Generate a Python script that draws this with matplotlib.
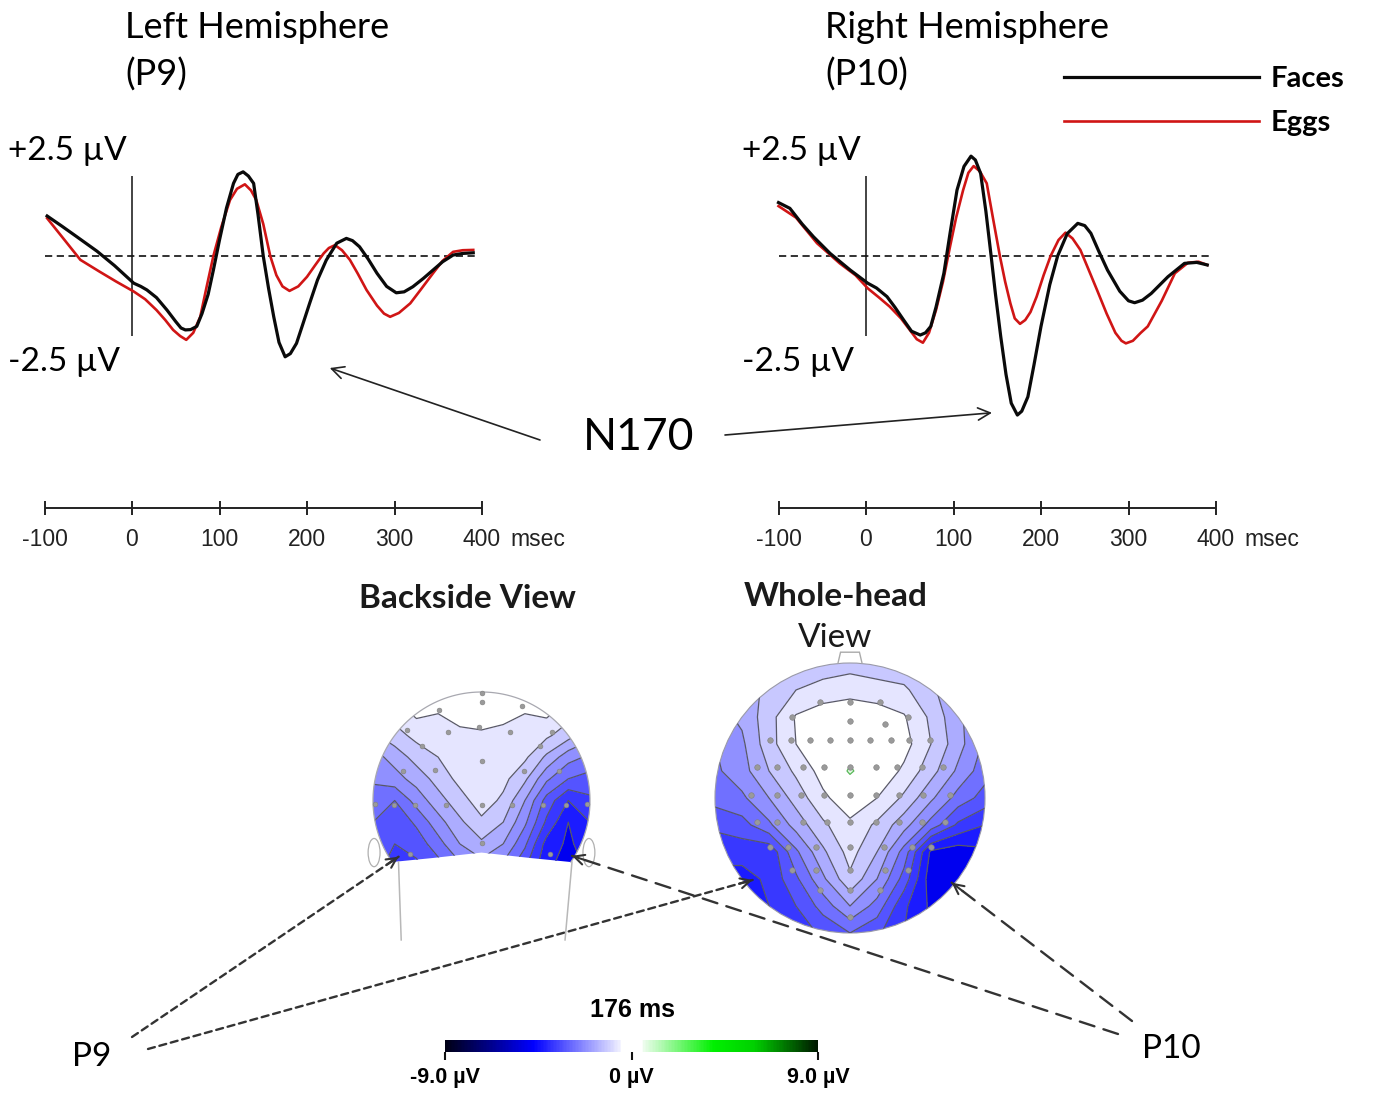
import matplotlib
matplotlib.use("Agg")
import matplotlib.pyplot as plt
import numpy as np
from matplotlib import font_manager
from matplotlib.colors import LinearSegmentedColormap, Normalize
from matplotlib.patches import Circle, Ellipse, Polygon

W, H = 1373, 1100

# ---- ERP waveforms (msec, µV) ------------------------------------------- #
left_faces_t = [-97, -80, -63, -40, -20, 2, 10, 17, 28, 40, 50, 56, 61, 67, 74, 80, 87, 93, 100,
                108, 116, 121, 127, 133, 139, 144, 150, 156, 162, 168, 175, 181, 188, 195, 203,
                212, 222, 234, 245, 252, 260, 270, 280, 291, 302, 311, 321, 333, 344, 355, 367,
                378, 390]
left_faces_v = [1.25, 0.93, 0.6, 0.15, -0.3, -0.85, -0.95, -1.06, -1.3, -1.69, -2.05, -2.25, -2.31,
                -2.3, -2.2, -1.8, -1.2, -0.44, 0.5, 1.5, 2.27, 2.55, 2.63, 2.5, 2.27, 1.3, 0.0,
                -1.0, -1.9, -2.7, -3.15, -3.05, -2.73, -2.15, -1.48, -0.75, -0.13, 0.4, 0.55,
                0.48, 0.29, -0.1, -0.54, -0.95, -1.15, -1.12, -0.96, -0.7, -0.44, -0.18, 0.03,
                0.08, 0.1]
left_eggs_t = [-97, -80, -59, -37, -18, 2, 15, 28, 38, 47, 55, 62, 70, 78, 85, 93, 102, 112, 120,
               129, 136, 142, 150, 158, 165, 172, 180, 190, 200, 209, 219, 225, 232, 240, 249,
               258, 268, 280, 288, 295, 305, 318, 330, 344, 355, 367, 378, 390]
left_eggs_v = [1.18, 0.6, -0.12, -0.49, -0.8, -1.11, -1.35, -1.69, -2.0, -2.31, -2.5, -2.62, -2.4,
               -1.9, -1.0, 0.0, 0.9, 1.75, 2.1, 2.24, 2.05, 1.75, 1.0, 0.0, -0.6, -0.95, -1.09,
               -0.95, -0.65, -0.3, 0.08, 0.25, 0.34, 0.18, -0.12, -0.55, -1.06, -1.55, -1.8,
               -1.9, -1.78, -1.48, -1.05, -0.54, -0.15, 0.13, 0.18, 0.19]
right_faces_t = [-100, -87, -73, -60, -41, -18, 2, 12, 24, 33, 43, 52, 62, 68, 74, 80, 89, 96, 104,
                 112, 120, 125, 131, 137, 143, 148, 154, 160, 166, 173, 178, 185, 192, 200, 210,
                 219, 230, 242, 250, 257, 266, 276, 290, 300, 307, 316, 326, 345, 364, 378, 390]
right_faces_v = [1.67, 1.49, 1.0, 0.6, 0.08, -0.44, -0.85, -1.0, -1.27, -1.6, -2.0, -2.35, -2.47,
                 -2.4, -2.2, -1.6, -0.54, 0.7, 2.06, 2.8, 3.12, 3.0, 2.58, 1.4, 0.0, -1.2, -2.52,
                 -3.7, -4.6, -4.97, -4.85, -4.4, -3.4, -2.2, -0.9, 0.0, 0.7, 1.02, 0.95, 0.71,
                 0.15, -0.44, -1.1, -1.4, -1.46, -1.38, -1.17, -0.65, -0.23, -0.2, -0.28]
right_eggs_t = [-100, -80, -56, -30, -12, 2, 15, 27, 40, 50, 58, 65, 72, 80, 88, 96, 103, 111, 117,
                123, 130, 138, 145, 153, 159, 165, 170, 176, 182, 188, 195, 203, 211, 220, 228,
                236, 245, 254, 264, 275, 285, 292, 297, 305, 314, 322, 338, 353, 368, 380, 390]
right_eggs_v = [1.56, 1.2, 0.4, -0.23, -0.6, -1.01, -1.3, -1.58, -1.95, -2.31, -2.6, -2.71, -2.4,
                -1.69, -0.8, 0.29, 1.2, 2.06, 2.6, 2.81, 2.65, 2.27, 1.2, 0.0, -0.8, -1.48, -1.95,
                -2.12, -2.0, -1.75, -1.27, -0.6, 0.0, 0.5, 0.73, 0.55, 0.19, -0.4, -1.06, -1.8,
                -2.4, -2.65, -2.73, -2.65, -2.4, -2.2, -1.4, -0.54, -0.21, -0.18, -0.28]

time_ticks = [-100, 0, 100, 200, 300, 400]
baseline_span = (-100, 392)
n170_tip_left = (226, -3.5)
n170_tip_right = (144, -4.9)

# ---- topographic maps (µV at grid nodes, unit-circle coords) ------------- #
wh_u = [-1.0, -0.8, -0.6, -0.4, -0.2, 0.0, 0.2, 0.4, 0.6, 0.8, 1.0]
wh_w = [1.0, 0.8, 0.6, 0.4, 0.2, 0.0, -0.2, -0.4, -0.6, -0.8, -1.0]
wh_z = [
    [-1.6, -1.6, -1.5, -1.4, -1.3, -1.2, -1.3, -1.4, -1.6, -1.8, -2.0],
    [-1.8, -1.7, -1.4, -1.0, -0.8, -0.7, -0.8, -0.9, -1.4, -1.9, -2.2],
    [-2.2, -1.9, -1.2, -0.45, -0.2, -0.1, -0.2, -0.45, -1.1, -1.9, -2.4],
    [-2.5, -2.1, -1.2, -0.5, -0.1, 0.1, 0.0, -0.3, -1.0, -1.8, -2.6],
    [-2.6, -2.2, -1.5, -0.9, -0.3, 0.6, -0.1, -0.6, -1.3, -2.1, -2.8],
    [-2.8, -2.6, -2.0, -1.3, -0.6, -0.2, -0.5, -1.1, -1.9, -2.7, -3.2],
    [-3.4, -3.2, -2.6, -1.8, -1.1, -0.6, -1.1, -1.8, -2.7, -3.6, -4.0],
    [-3.8, -3.8, -3.9, -2.6, -1.6, -0.8, -1.5, -2.7, -4.6, -4.8, -4.6],
    [-4.2, -4.2, -3.9, -3.1, -2.1, -1.1, -2.0, -3.2, -4.8, -5.0, -4.8],
    [-4.2, -4.2, -4.0, -3.5, -2.8, -2.0, -2.7, -3.9, -4.6, -4.8, -4.8],
    [-4.2, -4.2, -4.0, -3.8, -3.4, -3.0, -3.4, -4.0, -4.6, -4.8, -4.8],
]
wh_elec_u = [-0.22, 0, 0.22,
             -0.43, 0, 0.26, 0.43,
             -0.59, -0.44, -0.30, -0.15, 0, 0.15, 0.30, 0.44, 0.59,
             -0.69, -0.54, -0.35, -0.19, 0, 0.19, 0.35, 0.53, 0.69,
             -0.73, -0.54, -0.36, -0.19, 0, 0.19, 0.36, 0.54, 0.74,
             -0.69, -0.54, -0.35, -0.17, 0, 0.19, 0.36, 0.53, 0.70,
             -0.59, -0.46, -0.25, 0, 0.25, 0.46, 0.60,
             -0.43, -0.25, 0, 0.26, 0.43,
             -0.22, 0, 0.22,
             0]
wh_elec_w = [0.71, 0.71, 0.71,
             0.60, 0.57, 0.55, 0.60,
             0.43, 0.43, 0.43, 0.43, 0.43, 0.43, 0.43, 0.43, 0.43,
             0.23, 0.23, 0.23, 0.23, 0.23, 0.23, 0.23, 0.23, 0.23,
             0.02, 0.02, 0.02, 0.02, 0.02, 0.02, 0.02, 0.02, 0.02,
             -0.18, -0.18, -0.18, -0.18, -0.18, -0.18, -0.18, -0.18, -0.18,
             -0.36, -0.36, -0.36, -0.36, -0.36, -0.36, -0.36,
             -0.53, -0.53, -0.53, -0.53, -0.53,
             -0.68, -0.68, -0.68,
             -0.88]

bk_u = [-1.0, -0.8, -0.6, -0.4, -0.2, 0.0, 0.2, 0.4, 0.6, 0.8, 1.0]
bk_w = [1.0, 0.8, 0.6, 0.4, 0.2, 0.0, -0.2, -0.4, -0.6]
bk_z = [
    [-0.8, -0.6, -0.4, -0.3, -0.2, -0.2, -0.2, -0.3, -0.4, -0.6, -0.8],
    [-1.0, -0.8, -0.4, -0.5, -0.35, -0.2, -0.4, -0.5, -0.4, -0.8, -1.0],
    [-1.6, -1.2, -0.85, -0.7, -0.6, -0.6, -0.6, -0.7, -0.9, -1.3, -1.8],
    [-2.2, -1.8, -1.3, -1.0, -0.7, -0.6, -0.7, -0.9, -1.6, -2.3, -2.6],
    [-2.4, -2.2, -1.8, -1.3, -0.85, -0.6, -0.85, -1.4, -2.4, -3.0, -3.2],
    [-2.8, -3.0, -2.3, -1.7, -1.2, -0.75, -1.1, -2.0, -3.2, -4.0, -3.6],
    [-3.0, -3.4, -2.9, -2.2, -1.6, -1.1, -1.5, -2.4, -3.6, -4.5, -4.0],
    [-3.2, -3.5, -3.3, -2.7, -2.0, -1.6, -2.0, -2.9, -4.2, -4.6, -4.2],
    [-3.4, -3.6, -3.6, -3.2, -2.6, -2.2, -2.6, -3.4, -4.4, -4.7, -4.4],
]
bk_elec_u = [0, 0, -0.39, 0.37, -0.69, -0.31, -0.02, 0.26, 0.65, -0.55, 0.54, 0, -0.43, -0.72,
             0.39, 0.71, -0.98, -0.81, -0.61, -0.33, 0, 0.28, 0.57, 0.78, 0.97, -0.66, 0, 0.63]
bk_elec_w = [0.99, 0.91, 0.83, 0.87, 0.65, 0.63, 0.68, 0.63, 0.63, 0.50, 0.50, 0.36, 0.28, 0.27,
             0.27, 0.27, -0.03, -0.04, -0.04, -0.04, -0.04, -0.04, -0.04, -0.04, -0.03, -0.49,
             -0.39, -0.49]
bk_neck_cut = [(0.823, -0.567), (0.45, -0.53), (0.0, -0.48), (-0.45, -0.53), (-0.823, -0.567)]

map_levels = [-5.5, -4.5, -4.0, -3.5, -3.0, -2.5, -2.0, -1.5, -1.0, -0.5, 0.5, 1.0, 1.5]
line_levels = [-4.5, -4.0, -3.5, -3.0, -2.5, -2.0, -1.5, -1.0, -0.5]

p9_back, p9_whole = (-0.764, -0.518), (-0.721, -0.607)
p10_back, p10_whole = (0.834, -0.51), (0.753, -0.627)

# ---- fonts ----------------------------------------------------------------- #
names = {f.name for f in font_manager.fontManager.ttflist}
HAS_NARROW = "Liberation Sans Narrow" in names
NARROW = "Liberation Sans Narrow" if HAS_NARROW else "Liberation Sans"
SANS = "Lato"

cmap = LinearSegmentedColormap.from_list("bwg", [
    (0.00, "#000014"), (0.236, "#0000ff"), (0.47, "#f0f0ff"),
    (0.472, "#ffffff"), (0.528, "#ffffff"), (0.532, "#eefcee"), (0.72, "#00f000"),
    (0.83, "#00d000"), (1.00, "#001800")])
norm = Normalize(-9, 9)

fig = plt.figure(figsize=(W / 100, H / 100), dpi=100)
fig.patch.set_facecolor("white")


def box(x0, y0, x1, y1):
    return [x0 / W, 1 - y1 / H, (x1 - x0) / W, (y1 - y0) / H]


def fxy(x, y):
    return (x / W, 1 - y / H)


def ftext(x, y, s, **kw):
    fig.text(x / W, 1 - y / H, s, **kw)


# ---- ERP panels ------------------------------------------------------------ #
ax_l = fig.add_axes(box(0.75, 140, 587, 560))
ax_r = fig.add_axes(box(734.75, 140, 1321, 560))
panels = [(ax_l, left_faces_t, left_faces_v, left_eggs_t, left_eggs_v),
          (ax_r, right_faces_t, right_faces_v, right_eggs_t, right_eggs_v)]
tick_fs = 19 if HAS_NARROW else 16.5
for ax, ft, fv, et, ev in panels:
    ax.set_xlim(-150, 520)
    ax.set_ylim(-9.5, 3.625)
    ax.axis("off")
    ax.hlines(0, *baseline_span, colors="#222222", linestyles=(0, (4, 2.5)), lw=1.3)
    ax.vlines(0, -2.5, 2.5, colors="#111111", lw=1.1)
    ax.plot(et, ev, color="#d01515", lw=1.9, solid_joinstyle="round", label="Eggs")
    ax.plot(ft, fv, color="#0a0a0a", lw=2.3, solid_joinstyle="round", label="Faces")
    ax.text(-142, 3.28, "+2.5 µV", family=SANS, fontsize=24, va="center", ha="left")
    ax.text(-142, -3.3, "-2.5 µV", family=SANS, fontsize=24, va="center", ha="left")
    # time scale bar
    ax.hlines(-7.875, time_ticks[0], time_ticks[-1], colors="#222222", lw=1.4)
    ax.vlines(time_ticks, -7.875 - 0.22, -7.875 + 0.22, colors="#222222", lw=1.4)
    for t in time_ticks:
        ax.text(t, -8.85, str(t), family=NARROW, fontsize=tick_fs,
                ha="center", va="center", color="#222222")
    ax.text(432, -8.85, "msec", family=NARROW, fontsize=tick_fs,
            ha="left", va="center", color="#222222")

ftext(125, 27, "Left Hemisphere", family=SANS, fontsize=26, va="center")
ftext(125, 75, "(P9)", family=SANS, fontsize=26, va="center")
ftext(825, 27, "Right Hemisphere", family=SANS, fontsize=26, va="center")
ftext(825, 75, "(P10)", family=SANS, fontsize=26, va="center")

h = ax_l.get_lines()
fig.legend([h[1], h[0]], ["Faces", "Eggs"], loc="upper left", bbox_to_anchor=fxy(1064, 66),
           frameon=False, handlelength=6.7, handletextpad=0.4, labelspacing=0.62,
           borderpad=0, borderaxespad=0, prop={"family": SANS, "weight": "bold", "size": 21})

# N170 label and arrows
ftext(639, 438, "N170", family=SANS, fontsize=32, ha="center", va="center")
arrow_kw = dict(arrowstyle="->", lw=1.2, color="#222222", mutation_scale=22, shrinkA=0, shrinkB=0)
ax_l.annotate("", xy=n170_tip_left, xytext=fxy(540, 440), textcoords="figure fraction",
              arrowprops=arrow_kw)
ax_r.annotate("", xy=n170_tip_right, xytext=fxy(725, 435), textcoords="figure fraction",
              arrowprops=arrow_kw)

# ---- topographic maps ------------------------------------------------------ #
line_kw = dict(levels=line_levels, colors="#585868", linewidths=0.9, linestyles="solid")

ax_w = fig.add_axes(box(701.5, 649.5, 998.5, 946.5))
ax_w.set_xlim(-1.1, 1.1)
ax_w.set_ylim(-1.1, 1.1)
ax_w.axis("off")
clip_w = Circle((0, 0), 1.0, transform=ax_w.transData)
cf = ax_w.contourf(wh_u, wh_w, wh_z, levels=map_levels, cmap=cmap, norm=norm)
cf.set_clip_path(clip_w)
cl = ax_w.contour(wh_u, wh_w, wh_z, **line_kw)
cl.set_clip_path(clip_w)
cg = ax_w.contour(wh_u, wh_w, wh_z, levels=[0.5], colors="#5cb85c", linewidths=0.9)
cg.set_clip_path(clip_w)
ax_w.add_patch(Circle((0, 0), 1.0, fill=False, ec="#9a9aa8", lw=0.8))
ax_w.add_patch(Polygon([(-0.09, 0.995), (-0.07, 1.08), (0.07, 1.08), (0.09, 0.995)],
                       closed=False, fill=False, ec="#aaaaaa", lw=1.0))
ax_w.scatter(wh_elec_u, wh_elec_w, s=16, c="#9a9a9a", edgecolors="#808080", linewidths=0.4,
             zorder=5)

ax_b = fig.add_axes(box(362.15, 681.15, 600.85, 946.98))
ax_b.set_xlim(-1.1, 1.1)
ax_b.set_ylim(-1.35, 1.1)
ax_b.axis("off")
ang = np.radians(np.linspace(214.56, -34.56, 120))
dome = np.column_stack([np.cos(ang), np.sin(ang)])
clip_b = Polygon(np.vstack([dome, bk_neck_cut]), closed=True, transform=ax_b.transData)
cf = ax_b.contourf(bk_u, bk_w, bk_z, levels=map_levels, cmap=cmap, norm=norm)
cf.set_clip_path(clip_b)
cl = ax_b.contour(bk_u, bk_w, bk_z, **line_kw)
cl.set_clip_path(clip_b)
ax_b.plot(dome[:, 0], dome[:, 1], color="#a8a8b0", lw=0.9)
for side in (-1, 1):
    ax_b.add_patch(Ellipse((side * 0.99, -0.48), 0.11, 0.26, fill=False, ec="#b0b0b0", lw=0.9))
ax_b.plot([-0.765, -0.74], [-0.567, -1.285], color="#b8b8b8", lw=1.1)
ax_b.plot([0.834, 0.77], [-0.567, -1.285], color="#b8b8b8", lw=1.1)
ax_b.scatter(bk_elec_u, bk_elec_w, s=12, c="#9a9a9a", edgecolors="#808080", linewidths=0.4,
             zorder=5)

ftext(467, 598, "Backside View", family=SANS, fontsize=24, weight="bold", ha="center",
      va="center", color="#1a1a1a")
ftext(836, 597, "Whole-head", family=SANS, fontsize=24, weight="bold", ha="center",
      va="center", color="#1a1a1a")
ftext(835, 638, "View", family=SANS, fontsize=24, ha="center", va="center", color="#1a1a1a")

# ---- electrode labels with dashed pointers --------------------------------- #
ftext(92, 1057, "P9", family=SANS, fontsize=24, ha="center", va="center")
ftext(1171, 1049, "P10", family=SANS, fontsize=24, ha="center", va="center")


def pointer(ax, tip, start_px, dashes):
    ax.annotate("", xy=tip, xytext=fxy(*start_px), textcoords="figure fraction",
                arrowprops=dict(arrowstyle="-", lw=1.7, color="#333333", linestyle=dashes,
                                shrinkA=0, shrinkB=0))
    tip_d = ax.transData.transform(tip)
    st_d = fig.transFigure.transform(fxy(*start_px))
    d = (st_d - tip_d) / np.hypot(*(st_d - tip_d))
    ax.annotate("", xy=tip, xytext=(d[0] * 10, d[1] * 10), textcoords="offset points",
                arrowprops=dict(arrowstyle="->", lw=1.5, color="#333333", mutation_scale=18,
                                shrinkA=0, shrinkB=0))


pointer(ax_b, p9_back, (132, 1037), (0, (3, 2)))
pointer(ax_w, p9_whole, (148, 1049), (0, (3, 2)))
pointer(ax_w, p10_whole, (1132, 1021), (0, (6.5, 4)))
pointer(ax_b, p10_back, (1118, 1034), (0, (6.5, 4)))

# ---- colour bar ------------------------------------------------------------ #
cax = fig.add_axes(box(445, 1040, 818, 1052))
cb = fig.colorbar(plt.cm.ScalarMappable(norm=norm, cmap=cmap), cax=cax,
                  orientation="horizontal", ticks=[-9, 0, 9])
cb.outline.set_visible(False)
cax.tick_params(length=6, width=1.5, color="#111111", pad=5)
cb.set_ticklabels(["-9.0 µV", "0 µV", "9.0 µV"])
for lab in cax.get_xticklabels():
    lab.set_fontfamily(NARROW)
    lab.set_fontweight("bold")
    lab.set_fontsize(17 if HAS_NARROW else 15.5)
ftext(632, 1010, "176 ms", family=NARROW, fontsize=20 if HAS_NARROW else 18, weight="bold",
      ha="center", va="center")

fig.savefig("out.png", dpi=100, facecolor="white")
